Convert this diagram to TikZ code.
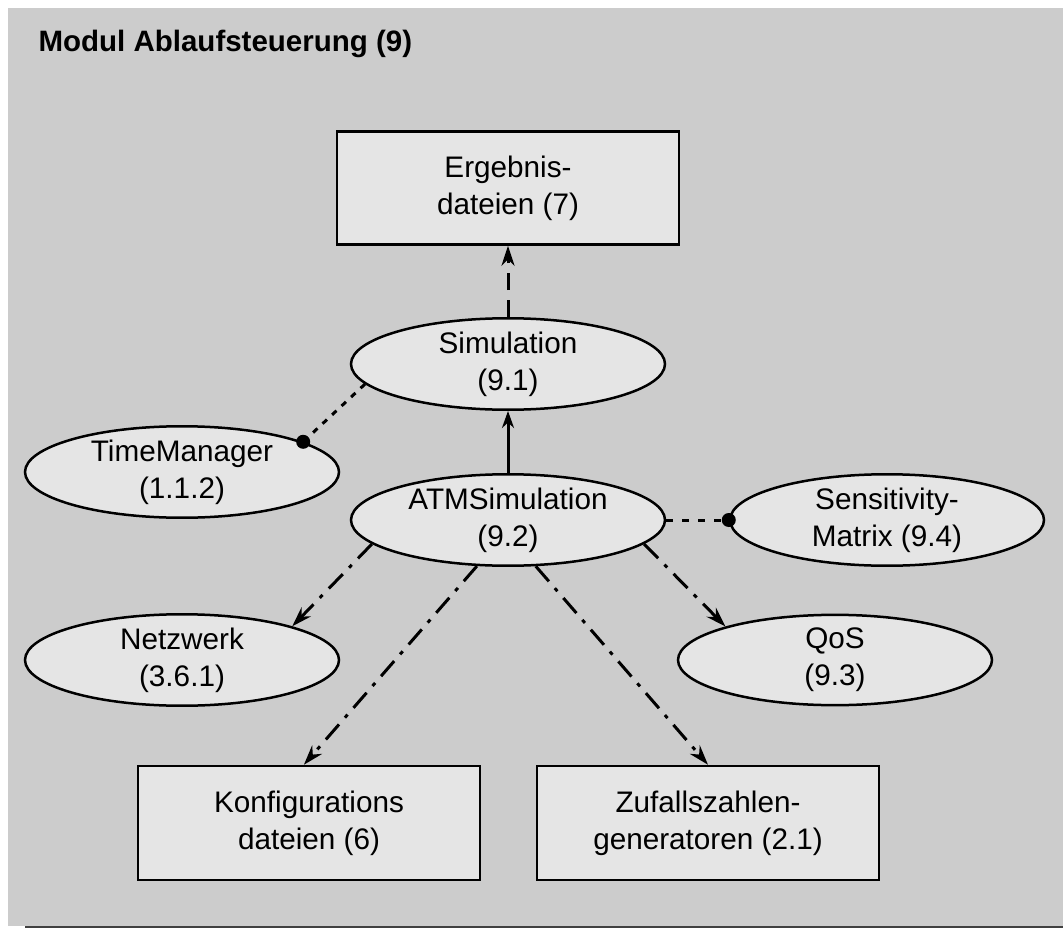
\documentclass[tikz,border=0pt]{standalone}
\usepackage{fontspec}
\setmainfont{Liberation Sans}
\usetikzlibrary{arrows.meta,shapes.geometric}

\definecolor{panelgray}{gray}{0.8}
\definecolor{shapegray}{gray}{0.9}

\tikzset{
  txt/.style={align=center, font=\fontsize{29.7}{37}\selectfont},
  modul/.style={txt, ellipse, draw, line width=2.5pt, fill=shapegray,
    minimum width=314pt, minimum height=90pt, inner sep=0pt},
  datei/.style={txt, rectangle, draw, line width=2.5pt, fill=shapegray,
    minimum width=342pt, minimum height=113pt, inner sep=0pt},
  openhead/.style={-{Stealth[length=20pt,width=13pt,fill=white]}},
  uses/.style={line width=3pt, dash pattern=on 20pt off 9pt on 4pt off 9pt, openhead},
  writes/.style={line width=3pt, dash pattern=on 17pt off 10pt, openhead},
  calls/.style={line width=3pt, -{Stealth[length=17pt,width=12pt]}},
  linked/.style={line width=3pt, dash pattern=on 7pt off 9pt},
}

\begin{document}
\begin{tikzpicture}[x=1pt,y=-1pt]
  \useasboundingbox (0,0) rectangle (1063,928);
  \fill[panelgray] (8,8) rectangle (1063,926);
  \draw[line width=2pt, black!75] (25,927) -- (1063,927);

  \node[anchor=base west, font=\bfseries\fontsize{29.5}{35}\selectfont] (titel) at (35,52) {Modul Ablaufsteuerung (9)};

  % files
  \node[datei] (erg) at (508,188) {Ergebnis-\\dateien (7)};
  \node[datei, minimum height=114pt] (konf) at (309,823) {Konfigurations\\dateien (6)};
  \node[datei, minimum height=114pt] (zuf) at (708,823) {Zufallszahlen-\\generatoren (2.1)};

  % modules
  \node[modul] (sim) at (508,364) {Simulation\\(9.1)};
  \node[modul] (tm) at (182,472) {TimeManager\\(1.1.2)};
  \node[modul] (atm) at (508,520) {ATMSimulation\\(9.2)};
  \node[modul] (sens) at (887,520) {Sensitivity-\\Matrix (9.4)};
  \node[modul] (netz) at (182,660) {Netzwerk\\(3.6.1)};
  \node[modul] (qos) at (835,660) {QoS\\(9.3)};

  \draw[writes] (sim.north) -- (erg.south);
  \draw[calls] (atm.north) -- (sim.south);

  \draw[linked, dash pattern=on 6pt off 7pt] (sim.188) -- (tm.14);
  \fill (tm.14) circle (7pt);
  \draw[linked] (atm.east) -- (sens.west);
  \fill (sens.west) circle (7pt);

  \draw[uses] (atm.190) -- (netz.17);
  \draw[uses] (atm.350) -- (qos.163);
  \draw[uses] (atm.236) -- (konf.95);
  \draw[uses] (atm.301) -- (zuf.north);
\end{tikzpicture}
\end{document}
